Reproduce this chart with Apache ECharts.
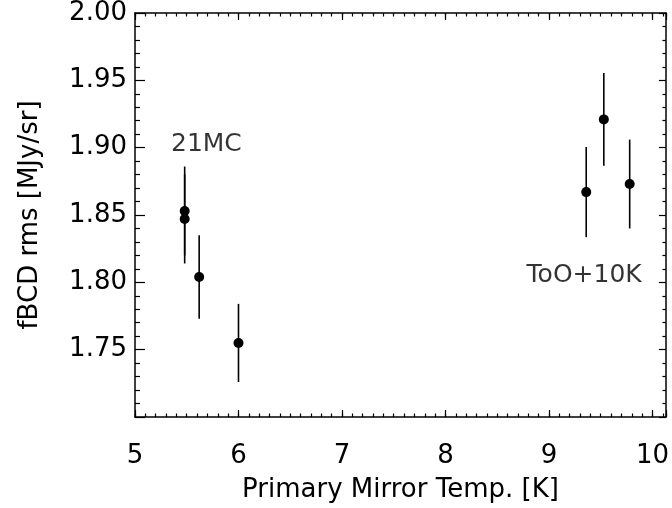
<!DOCTYPE html>
<html lang="en">
<head>
    <meta charset="UTF-8">
    <script src="https://cdn.jsdelivr.net/npm/echarts/dist/echarts.min.js"></script>
    <title>fBCD rms</title>
    <style>
        body{ margin: 0; background: #fff; }
        #chart{ width: 672px; height: 508px; }
    </style>
</head>
<body>
<div id="chart"></div>
<script>
    // data
    let temps = [5.48, 5.48, 5.62, 6.00, 9.36, 9.53, 9.78];
    let rms   = [1.853, 1.847, 1.804, 1.755, 1.867, 1.921, 1.873];
    let errs  = [0.033, 0.033, 0.031, 0.029, 0.0335, 0.0345, 0.033];

    let noteText = ['21MC', 'ToO+10K'];
    let noteX = [5.69, 9.34];
    let noteY = [1.902, 1.805];

    let xMin = 5, xMax = 10.13;
    let yMin = 1.70, yMax = 2.00;

    let font = 'DejaVu Sans';
    let black = '#000';

    let points = temps.map((t, i) => [t, rms[i]]);
    let bars = temps.map((t, i) => [t, rms[i] - errs[i], rms[i] + errs[i]]);
    let notes = noteText.map((s, i) => [noteX[i], noteY[i], s]);

    // one helper for the box axes (ticks pointing inward)
    function xAx(pos, len, interval, labels, extra){
        return Object.assign({
            type: 'value', position: pos, min: xMin, max: xMax, interval: interval,
            axisLine: { show: true, onZero: false, lineStyle: { color: black, width: 1.5 } },
            axisTick: { show: true, inside: true, length: len, lineStyle: { color: black, width: 1.2 } },
            axisLabel: { show: labels },
            splitLine: { show: false }
        }, extra || {});
    }

    let chart = echarts.init(document.getElementById('chart'));
    chart.setOption({
        backgroundColor: '#fff',
        animation: false,
        grid: { left: 135, right: 4, top: 12, bottom: 88, containLabel: false },
        xAxis: [
            xAx('bottom', 7, 1, true, {
                name: 'Primary Mirror Temp. [K]', nameLocation: 'middle', nameGap: 60,
                nameTextStyle: { color: black, fontSize: 26, fontFamily: font },
                axisLabel: {
                    show: true, color: black, fontSize: 26, fontFamily: font, margin: 26,
                    formatter: v => Number.isInteger(v) ? String(v) : ''
                }
            }),
            xAx('bottom', 3.5, 0.1, false, { axisLine: { show: false } }),
            xAx('top', 7, 1, false),
            xAx('top', 3.5, 0.1, false, { axisLine: { show: false } })
        ],
        yAxis: [
            {
                type: 'value', position: 'left', min: yMin, max: yMax, interval: 0.05,
                name: 'fBCD rms [MJy/sr]', nameLocation: 'middle', nameGap: 92,
                nameTextStyle: { color: black, fontSize: 26, fontFamily: font },
                axisLine: { show: true, onZero: false, lineStyle: { color: black, width: 1.5 } },
                axisTick: { show: true, inside: true, length: 10, lineStyle: { color: black, width: 1.2 } },
                minorTick: { show: true, splitNumber: 5, length: 5, lineStyle: { color: black, width: 1.2 } },
                axisLabel: {
                    color: black, fontSize: 26, fontFamily: font, margin: 8,
                    formatter: v => (v > 1.71 && v < 1.99 || v >= 1.995) ? v.toFixed(2) : ''
                },
                splitLine: { show: false }
            },
            {
                type: 'value', position: 'right', min: yMin, max: yMax, interval: 0.05,
                axisLine: { show: true, onZero: false, lineStyle: { color: black, width: 1.5 } },
                axisTick: { show: true, inside: true, length: 7, lineStyle: { color: black, width: 1.2 } },
                minorTick: { show: true, splitNumber: 5, length: 3.5, lineStyle: { color: black, width: 1.2 } },
                axisLabel: { show: false },
                splitLine: { show: false }
            }
        ],
        series: [
            {
                // error bars
                type: 'custom',
                data: bars,
                renderItem: function(params, api){
                    let lo = api.coord([api.value(0), api.value(1)]);
                    let hi = api.coord([api.value(0), api.value(2)]);
                    return {
                        type: 'line',
                        shape: { x1: lo[0], y1: lo[1], x2: hi[0], y2: hi[1] },
                        style: { stroke: black, lineWidth: 1.6 }
                    };
                },
                z: 2
            },
            {
                type: 'scatter',
                data: points,
                symbol: 'circle',
                symbolSize: 10,
                itemStyle: { color: black, opacity: 1 },
                z: 3
            },
            {
                // text notes
                type: 'scatter',
                data: notes,
                symbolSize: 0,
                label: {
                    show: true, position: 'inside', color: black,
                    fontSize: 25, fontFamily: font,
                    formatter: p => p.data[2]
                },
                silent: true
            }
        ]
    });
</script>
</body>
</html>
